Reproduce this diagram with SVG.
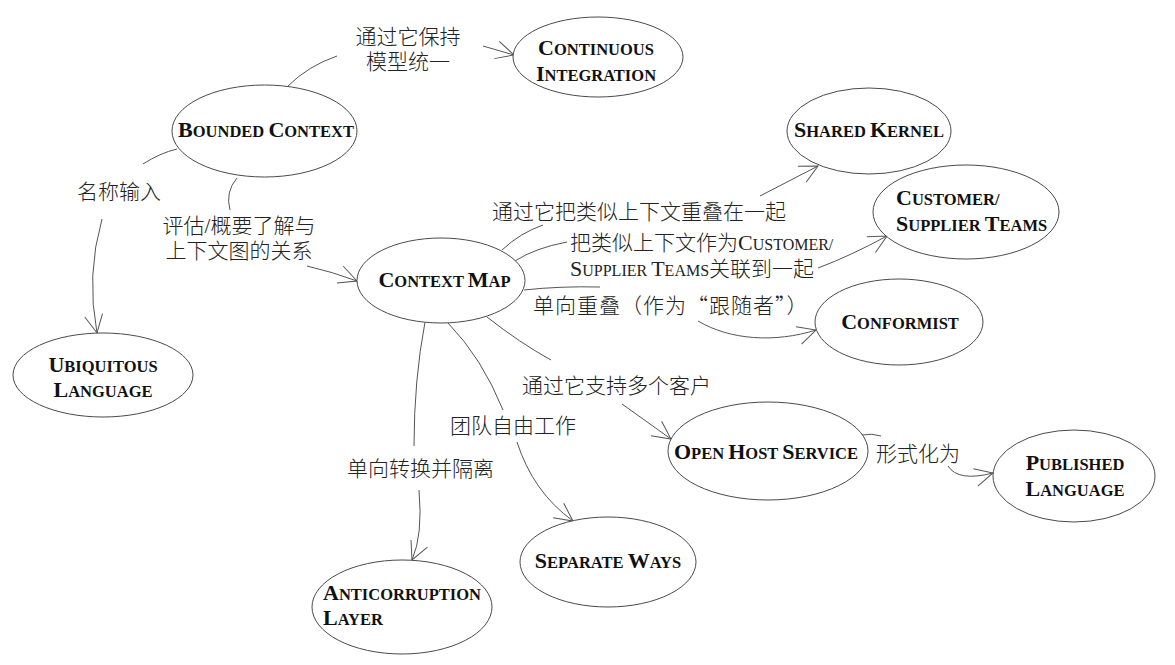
<svg xmlns="http://www.w3.org/2000/svg" width="1175" height="665" viewBox="0 0 1175 665">
  <style>
    .node ellipse { fill: #fff; stroke: #4a4a4a; stroke-width: 1; }
    .nl { font-family: "Liberation Serif", "Times New Roman", serif; font-weight: bold; font-size: 16.5px; fill: #111; }
    .k { font-size: 22px; }
    .edge path { fill: none; stroke: #555; stroke-width: 1; }
    .lbl { font-family: "Liberation Serif", "Noto Sans CJK SC", serif; font-size: 21px; font-weight: 300; fill: #222; }
    .lbl .r { font-size: 16px; font-weight: normal; }
    .cjk { font-family: "Noto Sans CJK SC", sans-serif; }
    .mid { text-anchor: middle; }
  </style>
  <defs>
    <!-- open V arrowhead -->
    <marker id="arrow" viewBox="-20 -11 22 22" refX="0" refY="0" markerWidth="22" markerHeight="22" markerUnits="userSpaceOnUse" orient="auto">
      <path d="M-18,-9 L0,0 L-18,9" fill="none" stroke="#555" stroke-width="1"/>
    </marker>
  </defs>
  <rect width="1175" height="665" fill="#fff"/>

  <!-- connectors: each one is drawn in two pieces with its label between them -->
  <g id="connectors" class="edge">
    <g id="e-bc-ci">
      <path d="M288,86 Q308,66 337,56"/>
      <path d="M483,46 L514,55" marker-end="url(#arrow)"/>
      <text class="lbl mid" x="408" y="44">通过它保持<tspan x="408" dy="25">模型统一</tspan></text>
    </g>
    <g id="e-bc-ul">
      <path d="M177,149 Q160,153 143,164"/>
      <path d="M102,219 Q86,275 97,333" marker-end="url(#arrow)"/>
      <text class="lbl mid" x="119" y="199">名称输入</text>
    </g>
    <g id="e-bc-cm">
      <path d="M237,178 Q225,192 230,210"/>
      <path d="M307,266 Q333,272 357,281" marker-end="url(#arrow)"/>
      <text class="lbl mid" x="239" y="233">评估/概要了解与<tspan x="239" dy="25">上下文图的关系</tspan></text>
    </g>
    <g id="e-cm-sk">
      <path d="M502,250 Q520,233 543,225"/>
      <path d="M760,196 L818,166" marker-end="url(#arrow)"/>
      <text class="lbl" x="492" y="219">通过它把类似上下文重叠在一起</text>
    </g>
    <g id="e-cm-cst">
      <path d="M515,261 Q535,248 567,242"/>
      <path d="M818,268 Q850,256 887,236" marker-end="url(#arrow)"/>
      <text class="lbl" x="570" y="250">把类似上下文作为<tspan class="r"><tspan class="k">C</tspan>USTOMER/</tspan><tspan x="570" dy="25.5"><tspan class="r"><tspan class="k">S</tspan>UPPLIER <tspan class="k">T</tspan>EAMS</tspan>关联到一起</tspan></text>
    </g>
    <g id="e-cm-cf">
      <path d="M524,290 Q560,286 600,287"/>
      <path d="M698,321 C730,340 775,343 816,330" marker-end="url(#arrow)"/>
      <text class="lbl cjk" x="533" y="313" letter-spacing="1">单向重叠（作为“跟随者”）</text>
    </g>
    <g id="e-cm-ohs">
      <path d="M487,317 Q520,343 551,360"/>
      <path d="M622,404 L671,439" marker-end="url(#arrow)"/>
      <text class="lbl" x="522" y="393">通过它支持多个客户</text>
    </g>
    <g id="e-cm-sw">
      <path d="M448,323 Q482,358 503,410"/>
      <path d="M517,442 Q533,492 573,521" marker-end="url(#arrow)"/>
      <text class="lbl" x="450" y="433">团队自由工作</text>
    </g>
    <g id="e-cm-acl">
      <path d="M425,322 Q414,380 414,446"/>
      <path d="M419,490 Q423,535 412,560" marker-end="url(#arrow)"/>
      <text class="lbl" x="347" y="476">单向转换并隔离</text>
    </g>
    <g id="e-ohs-pl">
      <path d="M862,435 Q872,433 881,436"/>
      <path d="M948,466 Q958,482 993,473" marker-end="url(#arrow)"/>
      <text class="lbl" x="876" y="461">形式化为</text>
    </g>
  </g>

  <!-- nodes -->
  <g id="bounded-context" class="node">
    <ellipse cx="264.5" cy="131" rx="92.5" ry="46"/>
    <text class="nl mid" x="266" y="137"><tspan class="k">B</tspan>OUNDED <tspan class="k">C</tspan>ONTEXT</text>
  </g>
  <g id="continuous-integration" class="node">
    <ellipse cx="598" cy="57" rx="85" ry="40"/>
    <text class="nl mid" x="596" y="55"><tspan class="k">C</tspan>ONTINUOUS<tspan x="596" dy="26"><tspan class="k">I</tspan>NTEGRATION</tspan></text>
  </g>
  <g id="shared-kernel" class="node">
    <ellipse cx="869" cy="131" rx="82" ry="43"/>
    <text class="nl mid" x="869" y="137"><tspan class="k">S</tspan>HARED <tspan class="k">K</tspan>ERNEL</text>
  </g>
  <g id="customer-supplier" class="node">
    <ellipse cx="966" cy="212" rx="93" ry="47"/>
    <text class="nl" x="896" y="205"><tspan class="k">C</tspan>USTOMER/<tspan x="896" dy="26"><tspan class="k">S</tspan>UPPLIER <tspan class="k">T</tspan>EAMS</tspan></text>
  </g>
  <g id="context-map" class="node">
    <ellipse cx="441" cy="280.5" rx="84" ry="42.5"/>
    <text class="nl mid" x="444.5" y="287"><tspan class="k">C</tspan>ONTEXT <tspan class="k">M</tspan>AP</text>
  </g>
  <g id="ubiquitous-language" class="node">
    <ellipse cx="103" cy="375" rx="90" ry="42"/>
    <text class="nl mid" x="103" y="372"><tspan class="k">U</tspan>BIQUITOUS<tspan x="103" dy="25"><tspan class="k">L</tspan>ANGUAGE</tspan></text>
  </g>
  <g id="conformist" class="node">
    <ellipse cx="899" cy="322" rx="84" ry="43"/>
    <text class="nl mid" x="900" y="329"><tspan class="k">C</tspan>ONFORMIST</text>
  </g>
  <g id="open-host-service" class="node">
    <ellipse cx="768" cy="451" rx="100" ry="49"/>
    <text class="nl mid" x="766" y="459"><tspan class="k">O</tspan>PEN <tspan class="k">H</tspan>OST <tspan class="k">S</tspan>ERVICE</text>
  </g>
  <g id="published-language" class="node">
    <ellipse cx="1074" cy="476" rx="81" ry="46"/>
    <text class="nl mid" x="1075" y="470"><tspan class="k">P</tspan>UBLISHED<tspan x="1075" dy="26"><tspan class="k">L</tspan>ANGUAGE</tspan></text>
  </g>
  <g id="separate-ways" class="node">
    <ellipse cx="608" cy="562" rx="88" ry="45"/>
    <text class="nl mid" x="608" y="568"><tspan class="k">S</tspan>EPARATE <tspan class="k">W</tspan>AYS</text>
  </g>
  <g id="anticorruption-layer" class="node">
    <ellipse cx="402" cy="607" rx="90" ry="47"/>
    <text class="nl" x="323" y="600"><tspan class="k">A</tspan>NTICORRUPTION<tspan x="323" dy="25"><tspan class="k">L</tspan>AYER</tspan></text>
  </g>
</svg>
